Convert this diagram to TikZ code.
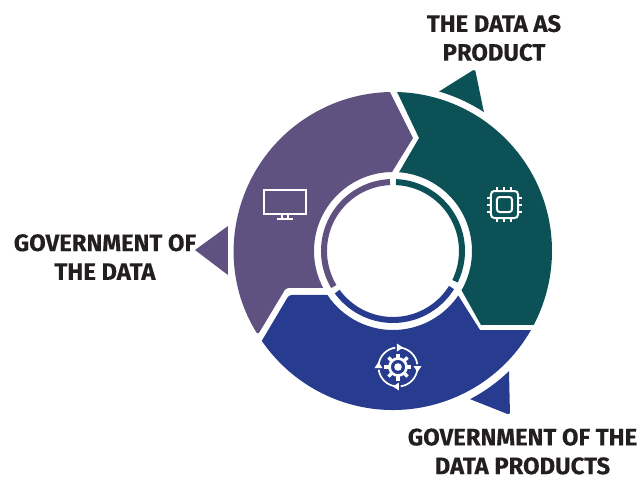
\documentclass[tikz,border=0pt]{standalone}
\usepackage{fontspec}
\setmainfont[BoldFeatures={FakeBold=0.2}]{Fira Sans}
\definecolor{tealc}{HTML}{0B5156}
\definecolor{purplec}{HTML}{5F5180}
\definecolor{bluec}{HTML}{273B8F}
\definecolor{labelc}{HTML}{231F20}
\tikzset{
  labeltext/.style={align=center,text=labelc,font=\bfseries\fontsize{17.9}{21.6}\selectfont,inner sep=0pt},
  iconline/.style={draw=white,line width=1.5pt,fill=none},
  ringpart/.style={line width=4.5pt,line cap=butt}
}
\begin{document}
\begin{tikzpicture}[x=0.75pt,y=0.75pt]
  \useasboundingbox (-393,-228) rectangle (250,251);
  % labels
  \node[labeltext] (dataproduct) at (101,213) {THE DATA AS\\PRODUCT};
  \node[labeltext] (govdata) at (-288,-6) {GOVERNMENT OF\\THE DATA};
  \node[labeltext] (govproducts) at (129.5,-200.5) {GOVERNMENT OF THE\\DATA PRODUCTS};
  % sectors
  \fill[tealc] (88.5:159) arc[start angle=88.5,end angle=-27.7,radius=159] -- (88,-74) -- (-29.8:79) arc[start angle=-29.8,end angle=85.6,radius=79] -- (26,113) -- cycle;
  \fill[purplec] (91.1:159) -- (20,113) -- (90.7:79) arc[start angle=90.7,end angle=207.9,radius=79] [rounded corners=2] -- (-107,-37) -- (211.8:159) [sharp corners] arc[start angle=211.8,end angle=91.1,radius=159] -- cycle;
  \fill[bluec] (214.4:159) [rounded corners=2] -- (-104,-44) [sharp corners] -- (213.7:79) arc[start angle=213.7,end angle=325.7,radius=79] -- (87,-79) -- (330.2:159) arc[start angle=330.2,end angle=214.4,radius=159] -- cycle;
  % inner ring
  \draw[ringpart,tealc] (87.5:69) arc[start angle=87.5,end angle=-26,radius=69];
  \draw[ringpart,bluec] (-32:69) arc[start angle=-32,end angle=-144,radius=69];
  \draw[ringpart,purplec] (211:69) arc[start angle=211,end angle=92.5,radius=69];
  % arrow heads
  \fill[tealc] (73.9:166) [rounded corners=2] -- (82,182) [sharp corners] -- (56.8:166) arc[start angle=56.8,end angle=73.9,radius=166] -- cycle;
  \fill[purplec] (-165,25) -- (-198,1) -- (-165,-24) -- cycle;
  \fill[bluec] (-62.5:167) arc[start angle=-62.5,end angle=-46,radius=167] [rounded corners=2] -- (117,-164) [sharp corners] -- cycle;
  % chip icon
  \begin{scope}[shift={(111.5,46.5)}]
    \draw[iconline,rounded corners=2.5] (-13.5,-13.5) rectangle (13.5,13.5);
    \draw[iconline,rounded corners=2] (-7.5,-7.5) rectangle (7.5,7.5);
    \foreach \p in {-7,0,7} {
      \draw[iconline] (\p,13.5) -- (\p,17.5);
      \draw[iconline] (\p,-13.5) -- (\p,-17.5);
      \draw[iconline] (13.5,\p) -- (17.5,\p);
      \draw[iconline] (-13.5,\p) -- (-17.5,\p);
    }
  \end{scope}
  % monitor icon
  \begin{scope}[shift={(-108,49)}]
    \draw[iconline,line width=0.8pt] (-21,-12) rectangle (21,12);
    \draw[iconline,line width=0.8pt] (-3,-12) -- (-3,-17) (3,-12) -- (3,-17);
    \draw[iconline,line width=0.8pt] (-8,-17) -- (8,-17);
  \end{scope}
  % gear icon
  \begin{scope}[shift={(5,-116)}]
    \fill[white] (0,0) circle (3.8);
    \draw[iconline,line width=2pt] (0,0) circle (8.5);
    \foreach \a in {0,45,...,315}
      \fill[white,rotate=\a] (-1.6,9) rectangle (1.6,13.5);
    \foreach \a in {0,90,180,270} {
      \draw[iconline,line width=1.3pt,rotate=\a] (82:19.5) arc[start angle=82,end angle=8,radius=19.5];
      \fill[white,rotate=\a] (-1,15.5) -- (5,19.5) -- (-1,23.5) -- cycle;
    }
  \end{scope}
\end{tikzpicture}
\end{document}
